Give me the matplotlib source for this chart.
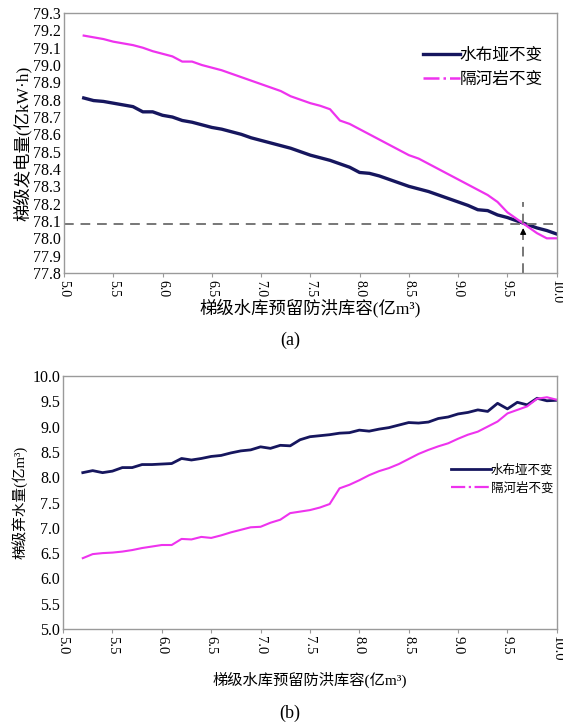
import matplotlib
matplotlib.use("Agg")
import matplotlib.pyplot as plt
from matplotlib.lines import Line2D
import numpy as np

plt.rcParams['font.family'] = ['Liberation Serif', 'Noto Sans CJK SC', 'DejaVu Sans']

# ---------------- data ----------------
x_cap = [5.2, 5.3, 5.4, 5.5, 5.6, 5.7, 5.8, 5.9, 6.0, 6.1, 6.2, 6.3, 6.4, 6.5, 6.6, 6.7,
         6.8, 6.9, 7.0, 7.1, 7.2, 7.3, 7.4, 7.5, 7.6, 7.7, 7.8, 7.9, 8.0, 8.1, 8.2, 8.3,
         8.4, 8.5, 8.6, 8.7, 8.8, 8.9, 9.0, 9.1, 9.2, 9.3, 9.4, 9.5, 9.6, 9.7, 9.8, 9.9, 10.0]

# (a) cascade power generation (亿kW·h)
gen_shuibuya = [78.81, 78.795, 78.79, 78.78, 78.77, 78.76, 78.73, 78.73, 78.71, 78.70,
                78.68, 78.67, 78.655, 78.64, 78.63, 78.615, 78.60, 78.58, 78.565, 78.55,
                78.535, 78.52, 78.50, 78.48, 78.465, 78.45, 78.43, 78.41, 78.38, 78.375,
                78.36, 78.34, 78.32, 78.30, 78.285, 78.27, 78.25, 78.23, 78.21, 78.19,
                78.165, 78.16, 78.135, 78.12, 78.10, 78.08, 78.06, 78.045, 78.025]
gen_geheyan = [79.17, 79.16, 79.15, 79.135, 79.125, 79.115, 79.10, 79.08, 79.065, 79.05,
               79.02, 79.02, 79.00, 78.985, 78.97, 78.95, 78.93, 78.91, 78.89, 78.87,
               78.85, 78.82, 78.80, 78.78, 78.765, 78.745, 78.68, 78.66, 78.63, 78.60,
               78.57, 78.54, 78.51, 78.48, 78.46, 78.43, 78.40, 78.37, 78.34, 78.31,
               78.28, 78.25, 78.21, 78.15, 78.11, 78.07, 78.03, 78.00, 78.00]

# (b) cascade spilled water (亿m³)
spill_shuibuya = [8.09, 8.13, 8.09, 8.12, 8.19, 8.19, 8.25, 8.25, 8.26, 8.27,
                  8.37, 8.34, 8.37, 8.41, 8.43, 8.48, 8.52, 8.54, 8.60, 8.57,
                  8.63, 8.62, 8.74, 8.80, 8.82, 8.84, 8.87, 8.88, 8.93, 8.91,
                  8.95, 8.98, 9.03, 9.08, 9.07, 9.09, 9.16, 9.19, 9.25, 9.28,
                  9.33, 9.30, 9.46, 9.35, 9.48, 9.43, 9.56, 9.51, 9.52]
spill_geheyan = [6.40, 6.48, 6.50, 6.51, 6.53, 6.56, 6.60, 6.63, 6.66, 6.66,
                 6.78, 6.77, 6.82, 6.80, 6.85, 6.91, 6.96, 7.01, 7.02, 7.10,
                 7.16, 7.29, 7.32, 7.35, 7.40, 7.47, 7.78, 7.85, 7.94, 8.04,
                 8.12, 8.18, 8.26, 8.36, 8.46, 8.54, 8.61, 8.67, 8.76, 8.84,
                 8.90, 9.00, 9.10, 9.26, 9.33, 9.40, 9.55, 9.58, 9.53]

cross_x = 9.66
cross_y = 78.08

x_ticks = [5.0, 5.5, 6.0, 6.5, 7.0, 7.5, 8.0, 8.5, 9.0, 9.5, 10.0]
y_ticks_a = [77.8, 77.9, 78.0, 78.1, 78.2, 78.3, 78.4, 78.5, 78.6, 78.7, 78.8, 78.9,
             79.0, 79.1, 79.2, 79.3]
y_ticks_b = [5.0, 5.5, 6.0, 6.5, 7.0, 7.5, 8.0, 8.5, 9.0, 9.5, 10.0]

labels = ['水布垭不变', '隔河岩不变']
NAVY = '#16165e'
MAG = '#ee33ee'
SPINE = '#9a9a9a'

fig = plt.figure(figsize=(5.63, 7.26), dpi=100)

def style_axes(ax, yticks, xfs, yfs):
    for s in ax.spines.values():
        s.set_color(SPINE)
        s.set_linewidth(1.0)
    ax.set_xlim(5.0, 10.0)
    ax.set_xticks(x_ticks)
    ax.set_xticklabels([f'{v:.1f}' for v in x_ticks], rotation=-90, fontsize=xfs)
    ax.set_yticks(yticks)
    ax.set_yticklabels([f'{v:.1f}' for v in yticks], fontsize=yfs)
    ax.tick_params(axis='x', direction='out', length=3, color=SPINE, pad=2)
    ax.tick_params(axis='y', length=0, pad=2)

# ---------------- (a) ----------------
ax1 = fig.add_axes([0.1137, 0.624, 0.875, 0.358])
ax1.plot(x_cap, gen_shuibuya, color=NAVY, lw=2.4)
ax1.plot(x_cap, gen_geheyan, color=MAG, lw=1.6)
ax1.set_ylim(77.8, 79.3)
style_axes(ax1, y_ticks_a, 10, 11.5)
ax1.axhline(cross_y, color='#777777', lw=1.4, ls=(0, (5, 3.5)))
ax1.plot([cross_x, cross_x], [77.8, 78.21], color='#777777', lw=1.4, ls=(0, (5, 3.5)))
ax1.annotate('', xy=(cross_x, cross_y - 0.005), xytext=(cross_x, cross_y - 0.06),
             arrowprops=dict(arrowstyle='-|>', color='black', lw=0.8, mutation_scale=9))
ax1.set_ylabel('梯级发电量(亿kW·h)', fontsize=12.5, labelpad=1)
ax1.set_xlabel('梯级水库预留防洪库容(亿m³)', fontsize=12.5, labelpad=-4)
h1 = [Line2D([], [], color=NAVY, lw=2.4), Line2D([], [], color=MAG, lw=1.8, ls='-.')]
ax1.legend(h1, labels, loc='upper left', bbox_to_anchor=(0.715, 0.89), frameon=False,
           fontsize=12, handlelength=2.2, handletextpad=0.0, labelspacing=0.45,
           borderaxespad=0)
fig.text(0.515, 0.531, '(a)', ha='center', va='center', fontsize=13)

# ---------------- (b) ----------------
ax2 = fig.add_axes([0.112, 0.1336, 0.877, 0.3485])
ax2.plot(x_cap, spill_shuibuya, color=NAVY, lw=2.0)
ax2.plot(x_cap, spill_geheyan, color=MAG, lw=1.5)
ax2.set_ylim(5.0, 10.0)
style_axes(ax2, y_ticks_b, 10.5, 11.5)
ax2.set_ylabel('梯级弃水量(亿m³)', fontsize=10.5, labelpad=3)
ax2.set_xlabel('梯级水库预留防洪库容(亿m³)', fontsize=11, labelpad=7.5)
h2 = [Line2D([], [], color=NAVY, lw=2.0), Line2D([], [], color=MAG, lw=1.6, ls='-.')]
ax2.legend(h2, labels, loc='upper left', bbox_to_anchor=(0.775, 0.67), frameon=False,
           fontsize=9, handlelength=3.2, handletextpad=0.0, labelspacing=0.45,
           borderaxespad=0)
fig.text(0.515, 0.018, '(b)', ha='center', va='center', fontsize=13)

fig.savefig('out.png', dpi=100)
